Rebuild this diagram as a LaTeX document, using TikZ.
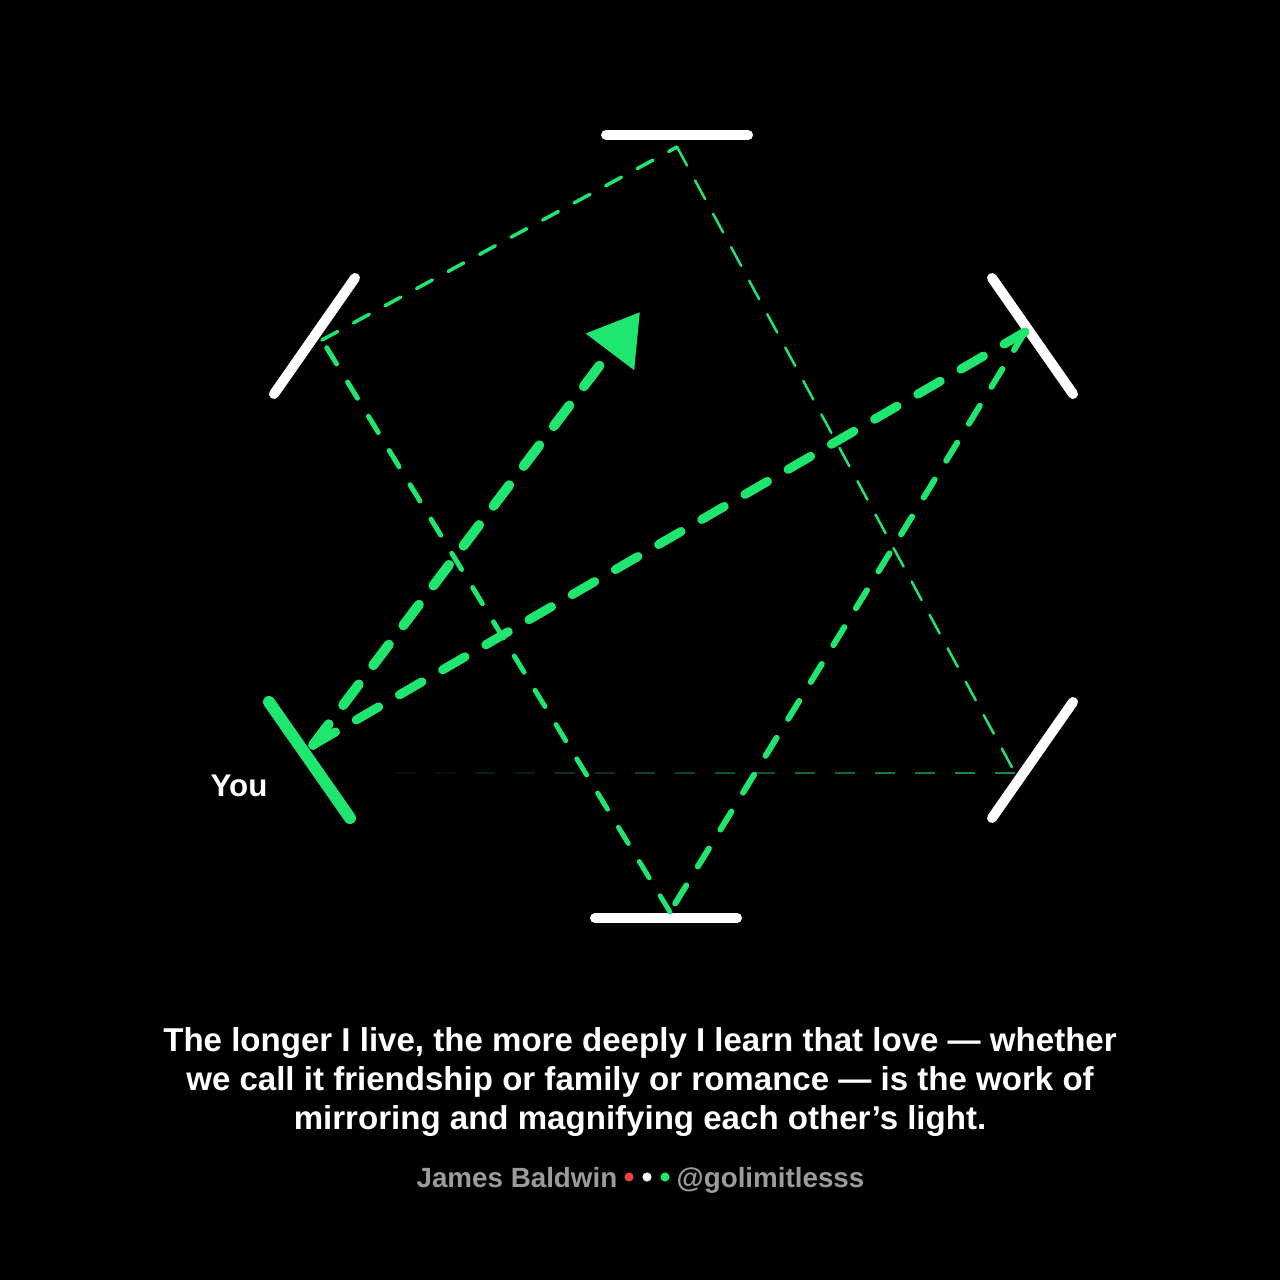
\documentclass[tikz,border=0pt]{standalone}
\usepackage{fontspec}
\setmainfont{Liberation Sans}
\usepackage{xcolor}
\usetikzlibrary{calc,arrows.meta}
\definecolor{lgreen}{RGB}{30,230,110}
\definecolor{lred}{RGB}{232,69,60}
\definecolor{lgrey}{RGB}{155,155,155}

\begin{document}
\begin{tikzpicture}[x=0.01cm,y=-0.01cm,
    mirror/.style={white,line width=2.85pt,line cap=round},
    ray/.style={lgreen,line cap=round},
    dot/.style={circle,inner sep=0pt,minimum size=2.6pt},
    credit/.style={lgrey,font=\bfseries\fontsize{7.9}{9}\selectfont,inner sep=0pt}]
	\fill[black] (0,0) rectangle (1280,1280);
	\useasboundingbox (0,0) rectangle (1280,1280);
	
	% mirrors
	\coordinate (T1) at (606,135);   \coordinate (T2) at (748,135);
	\coordinate (TL1) at (355,278);  \coordinate (TL2) at (274,394);
	\coordinate (TR1) at (992,278);  \coordinate (TR2) at (1073,394);
	\coordinate (BR1) at (1073,702); \coordinate (BR2) at (992,818);
	\coordinate (B1) at (595,918);   \coordinate (B2) at (737,918);
	\coordinate (Y1) at (269,702);   \coordinate (Y2) at (350,818);
	
	% where the light hits
	\coordinate (P0) at (313,745);
	\coordinate (P1) at (1025,332);
	\coordinate (P2) at (670,912);
	\coordinate (P3) at (322,340);
	\coordinate (P4) at (677,147);
	\coordinate (P5) at (1015,773);
	\coordinate (tip) at (640,312);
	
	\draw[mirror] (T1)--(T2);
	\draw[mirror] (TL1)--(TL2);
	\draw[mirror] (TR1)--(TR2);
	\draw[mirror] (BR1)--(BR2);
	\draw[mirror] (B1)--(B2);
	\draw[mirror,lgreen,line width=3.4pt] (Y1)--(Y2);
	
	\foreach \a/\b/\s in {0/80/62,80/160/54,160/240/46,240/320/38,320/400/30,400/480/22,480/560/14,560/640/7}
		\draw[lgreen!\s!black,line width=0.57pt,dash pattern=on 5.7pt off 5.7pt] ($(P5)+(-\a,0)$)--($(P5)+(-\b,0)$);
	\draw[ray,line width=0.7pt,dash pattern=on 6pt off 4.8pt] (P4)--(P5);
	\draw[ray,line width=1pt,dash pattern=on 5.1pt off 5.1pt] (P3)--(P4);
	\draw[ray,line width=1.4pt,dash pattern=on 5.4pt off 6pt] (P2)--(P3);
	\draw[ray,line width=1.7pt,dash pattern=on 6pt off 6.3pt] (P1)--(P2);
	\draw[ray,line width=2.56pt,dash pattern=on 7.4pt off 6.8pt] (P0)--(P1);
	\draw[ray,line width=2.8pt,dash pattern=on 7.4pt off 6.8pt,
		-{Triangle[length=14.2pt,width=16.5pt]}] (P0)--(tip);
	
	\node[white,font=\bfseries\fontsize{8.9}{10}\selectfont] (you) at (239,786) {You};
	
	\node[white,font=\bfseries\fontsize{9.4}{11.1}\selectfont,align=center] (quote) at (640,1082)
		{The longer I live, the more deeply I learn that love --- whether\\
		 we call it friendship or family or romance --- is the work of\\
		 mirroring and magnifying each other’s light.};
	
	\node[dot,fill=lred] (d1) at (629,1177) {};
	\node[dot,fill=white] (d2) at (647,1177) {};
	\node[dot,fill=lgreen] (d3) at (665,1177) {};
	\node[credit,anchor=base east] (author) at (618,1187) {James Baldwin};
	\node[credit,anchor=base west] (handle) at (676,1187) {@golimitlesss};
\end{tikzpicture}
\end{document}
